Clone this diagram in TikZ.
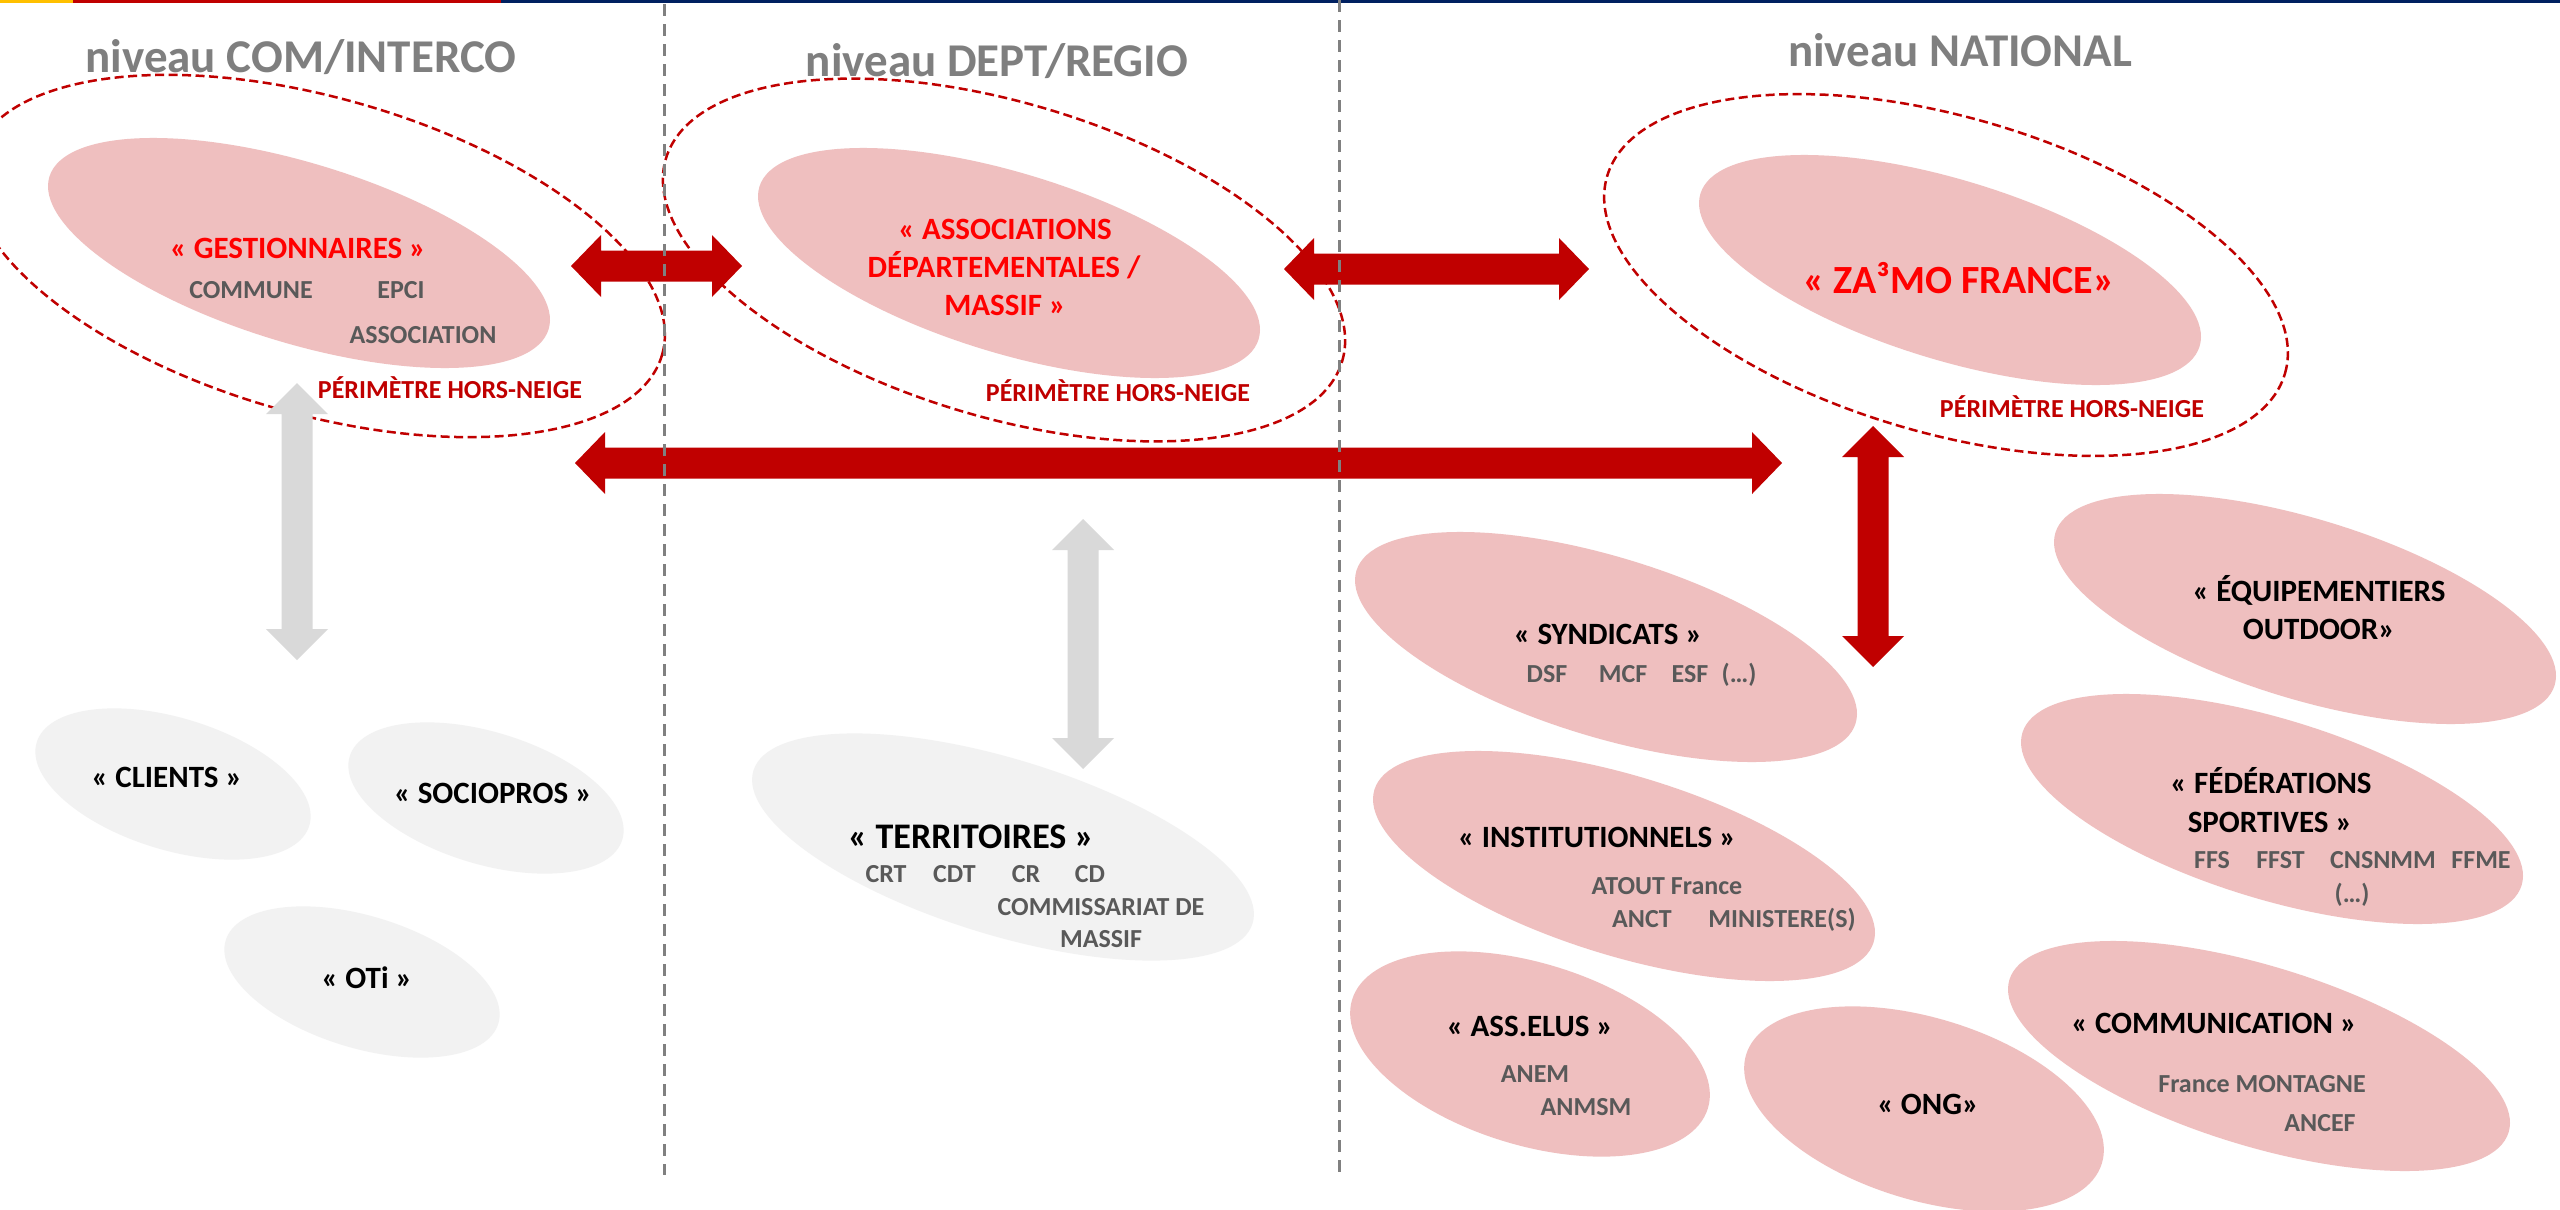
\documentclass[tikz,border=0pt]{standalone}
\usepackage{fontspec}
\setmainfont{Carlito}
\usetikzlibrary{shapes.geometric,calc}
\definecolor{pinkf}{HTML}{EFBFBF}
\definecolor{grayf}{HTML}{F2F2F2}
\definecolor{darkred}{HTML}{C00000}
\definecolor{brightred}{HTML}{FF0000}
\definecolor{txtgray}{HTML}{595959}
\definecolor{titlegray}{HTML}{7F7F7F}
\definecolor{arrgray}{HTML}{D9D9D9}
\definecolor{linegray}{HTML}{808080}
\definecolor{barY}{HTML}{FFC000}
\definecolor{barB}{HTML}{002060}
\newcommand\mkharrow[3]{%
  \fill[#3] (#1) -- ($(#1)+(30,-31)$) -- ($(#1)+(30,-15.5)$) -- ($(#2)+(-30,-15.5)$) -- ($(#2)+(-30,-31)$) -- (#2)
   -- ($(#2)+(-30,31)$) -- ($(#2)+(-30,15.5)$) -- ($(#1)+(30,15.5)$) -- ($(#1)+(30,31)$) -- cycle;}
\newcommand\mkvarrow[3]{%
  \fill[#3] (#1) -- ($(#1)+(-31,31)$) -- ($(#1)+(-15.5,31)$) -- ($(#2)+(-15.5,-31)$) -- ($(#2)+(-31,-31)$) -- (#2)
   -- ($(#2)+(31,-31)$) -- ($(#2)+(15.5,-31)$) -- ($(#1)+(15.5,31)$) -- ($(#1)+(31,31)$) -- cycle;}
\begin{document}
\begin{tikzpicture}[x=1pt,y=-1pt,
  ell/.style={ellipse, inner sep=0pt, outer sep=0pt, draw=none},
  bigell/.style={ell, minimum width=522pt, minimum height=180pt, rotate=-17},
  smallell/.style={ell, minimum width=372pt, minimum height=182pt, rotate=-17},
  tinyell/.style={ell, minimum width=285pt, minimum height=132pt, rotate=-17},
  pink/.style={fill=pinkf},
  grey/.style={fill=grayf},
  perim/.style={ell, draw=darkred, line width=2.5pt, dash pattern=on 9pt off 4.5pt},
  title/.style={anchor=base, text=titlegray, inner sep=0pt, font=\fontsize{47}{56}\selectfont\bfseries},
  redhead/.style={anchor=base, text=brightred, inner sep=0pt, font=\fontsize{31}{37}\selectfont\bfseries},
  head/.style={anchor=base, text=black, inner sep=0pt, font=\fontsize{31}{37}\selectfont\bfseries},
  sub/.style={anchor=base, text=txtgray, inner sep=0pt, font=\fontsize{26}{31}\selectfont\bfseries},
  perimtxt/.style={anchor=base, text=darkred, inner sep=0pt, font=\fontsize{26}{31}\selectfont\bfseries},
  vline/.style={linegray, line width=3pt, dash pattern=on 12pt off 8pt}
  ]
\fill[white] (0,0) rectangle (2560,1210);
\useasboundingbox (0,0) rectangle (2560,1210);
\clip (0,0) rectangle (2560,1210);
% top bar
\fill[barY] (0,0) rectangle (73,3);
\fill[darkred] (73,0) rectangle (501,3);
\fill[barB] (501,0) rectangle (2560,3);

% dashed perimeters
\node[perim, minimum width=716pt, minimum height=316pt, rotate=-16] (d1) at (318,256) {};
\node[perim, minimum width=706pt, minimum height=314pt, rotate=-16.7] (d2) at (1004,260) {};
\node[perim, minimum width=706pt, minimum height=316pt, rotate=-16.2] (d3) at (1946,275) {};

% pink ellipses
\node[bigell, pink] (e1) at (299,253) {};
\node[bigell, pink] (e2) at (1009,263) {};
\node[bigell, pink] (e3) at (1950,270) {};
\node[bigell, pink] (syn) at (1606,647) {};
\node[bigell, pink] (inst) at (1624,866) {};
\node[bigell, pink] (equip) at (2305,609) {};
\node[bigell, pink] (fed) at (2272,809) {};
\node[bigell, pink] (comm) at (2259,1056) {};
\node[smallell, pink] (elus) at (1530,1054) {};
\node[smallell, pink] (ong) at (1924,1109) {};
% grey ellipses
\node[bigell, grey, minimum height=176pt] (terr) at (1003,847) {};
\node[tinyell, grey] (cli) at (173,784) {};
\node[tinyell, grey] (soc) at (486,798) {};
\node[tinyell, grey] (oti) at (362,982) {};

% arrow end points
\coordinate (aL) at (571,266); \coordinate (aR) at (742,266);
\coordinate (bL) at (1284,269); \coordinate (bR) at (1589,269);
\coordinate (cL) at (575,463); \coordinate (cR) at (1782,463);
\coordinate (dT) at (1873,426); \coordinate (dB) at (1873,667);
\coordinate (gT) at (297,383); \coordinate (gB) at (297,660);
\coordinate (hT) at (1083,519); \coordinate (hB) at (1083,769);
\mkharrow{aL}{aR}{darkred}
\mkharrow{bL}{bR}{darkred}
\mkharrow{cL}{cR}{darkred}
\mkvarrow{dT}{dB}{darkred}
\mkvarrow{gT}{gB}{arrgray}
\mkvarrow{hT}{hB}{arrgray}

% titles
\node[title] (t1) at (301,72) {niveau COM/INTERCO};
\node[title] (t2) at (997,76) {niveau DEPT/REGIO};
\node[title] (t3) at (1960,66) {niveau NATIONAL};

% gestionnaires
\node[redhead] (g1) at (298,258) {« GESTIONNAIRES »};
\node[sub] (g2) at (251,298) {COMMUNE};
\node[sub] (g3) at (401,298) {EPCI};
\node[sub] (g4) at (423,343) {ASSOCIATION};
\node[perimtxt] (p1) at (450,398) {PÉRIMÈTRE HORS-NEIGE};
% associations
\node[redhead] (as1) at (1005,239) {« ASSOCIATIONS};
\node[redhead] (as2) at (1004,277) {DÉPARTEMENTALES /};
\node[redhead] (as3) at (1005,315) {MASSIF »};
\node[perimtxt] (p2) at (1118,401) {PÉRIMÈTRE HORS-NEIGE};
% zamo
\node[redhead, font=\fontsize{40}{48}\selectfont\bfseries] (z1) at (1959,293) {« ZA³MO FRANCE»};
\node[perimtxt] (p3) at (2072,417) {PÉRIMÈTRE HORS-NEIGE};
% grey ones
\node[head] (cl1) at (167,787) {« CLIENTS »};
\node[head] (so1) at (493,803) {« SOCIOPROS »};
\node[head] (ot1) at (367,988) {« OTi »};
\node[head, font=\fontsize{36}{43}\selectfont\bfseries] (te1) at (971,848) {« TERRITOIRES »};
\node[sub] (te2) at (886,882) {CRT};
\node[sub] (te3) at (954.5,882) {CDT};
\node[sub] (te4) at (1026,882) {CR};
\node[sub] (te5) at (1090,882) {CD};
\node[sub] (te6) at (1101,915) {COMMISSARIAT DE};
\node[sub] (te7) at (1101,947) {MASSIF};
% national
\node[head] (sy1) at (1608,644) {« SYNDICATS »};
\node[sub] (sy2) at (1547,682) {DSF};
\node[sub] (sy3) at (1623,682) {MCF};
\node[sub] (sy4) at (1690,682) {ESF};
\node[sub] (sy5) at (1739,682) {(…)};
\node[head] (in1) at (1597,847) {« INSTITUTIONNELS »};
\node[sub] (in2) at (1667,894) {ATOUT France};
\node[sub] (in3) at (1642,927) {ANCT};
\node[sub] (in4) at (1782,927) {MINISTERE(S)};
\node[head] (eq1) at (2319,601) {« ÉQUIPEMENTIERS};
\node[head] (eq2) at (2319,639) {OUTDOOR»};
\node[head] (fe1) at (2271,793) {« FÉDÉRATIONS};
\node[head] (fe2) at (2270,832) {SPORTIVES »};
\node[sub] (fe3) at (2212,868) {FFS};
\node[sub] (fe4) at (2280.5,868) {FFST};
\node[sub] (fe5) at (2383,868) {CNSNMM};
\node[sub] (fe6) at (2481,868) {FFME};
\node[sub] (fe7) at (2352,902) {(…)};
\node[head] (el1) at (1530,1036) {« ASS.ELUS »};
\node[sub] (el2) at (1535,1082) {ANEM};
\node[sub] (el3) at (1586,1115) {ANMSM};
\node[head] (on1) at (1928,1114) {« ONG»};
\node[head] (co1) at (2214,1033) {« COMMUNICATION »};
\node[sub] (co2) at (2262,1092) {France MONTAGNE};
\node[sub] (co3) at (2320,1131) {ANCEF};

% vertical separators
\coordinate (v1t) at (664,4); \coordinate (v1b) at (664,1175);
\coordinate (v2t) at (1339,0); \coordinate (v2b) at (1339,1175);
\draw[vline] (v1t) -- (v1b);
\draw[vline] (v2t) -- (v2b);
\end{tikzpicture}
\end{document}
